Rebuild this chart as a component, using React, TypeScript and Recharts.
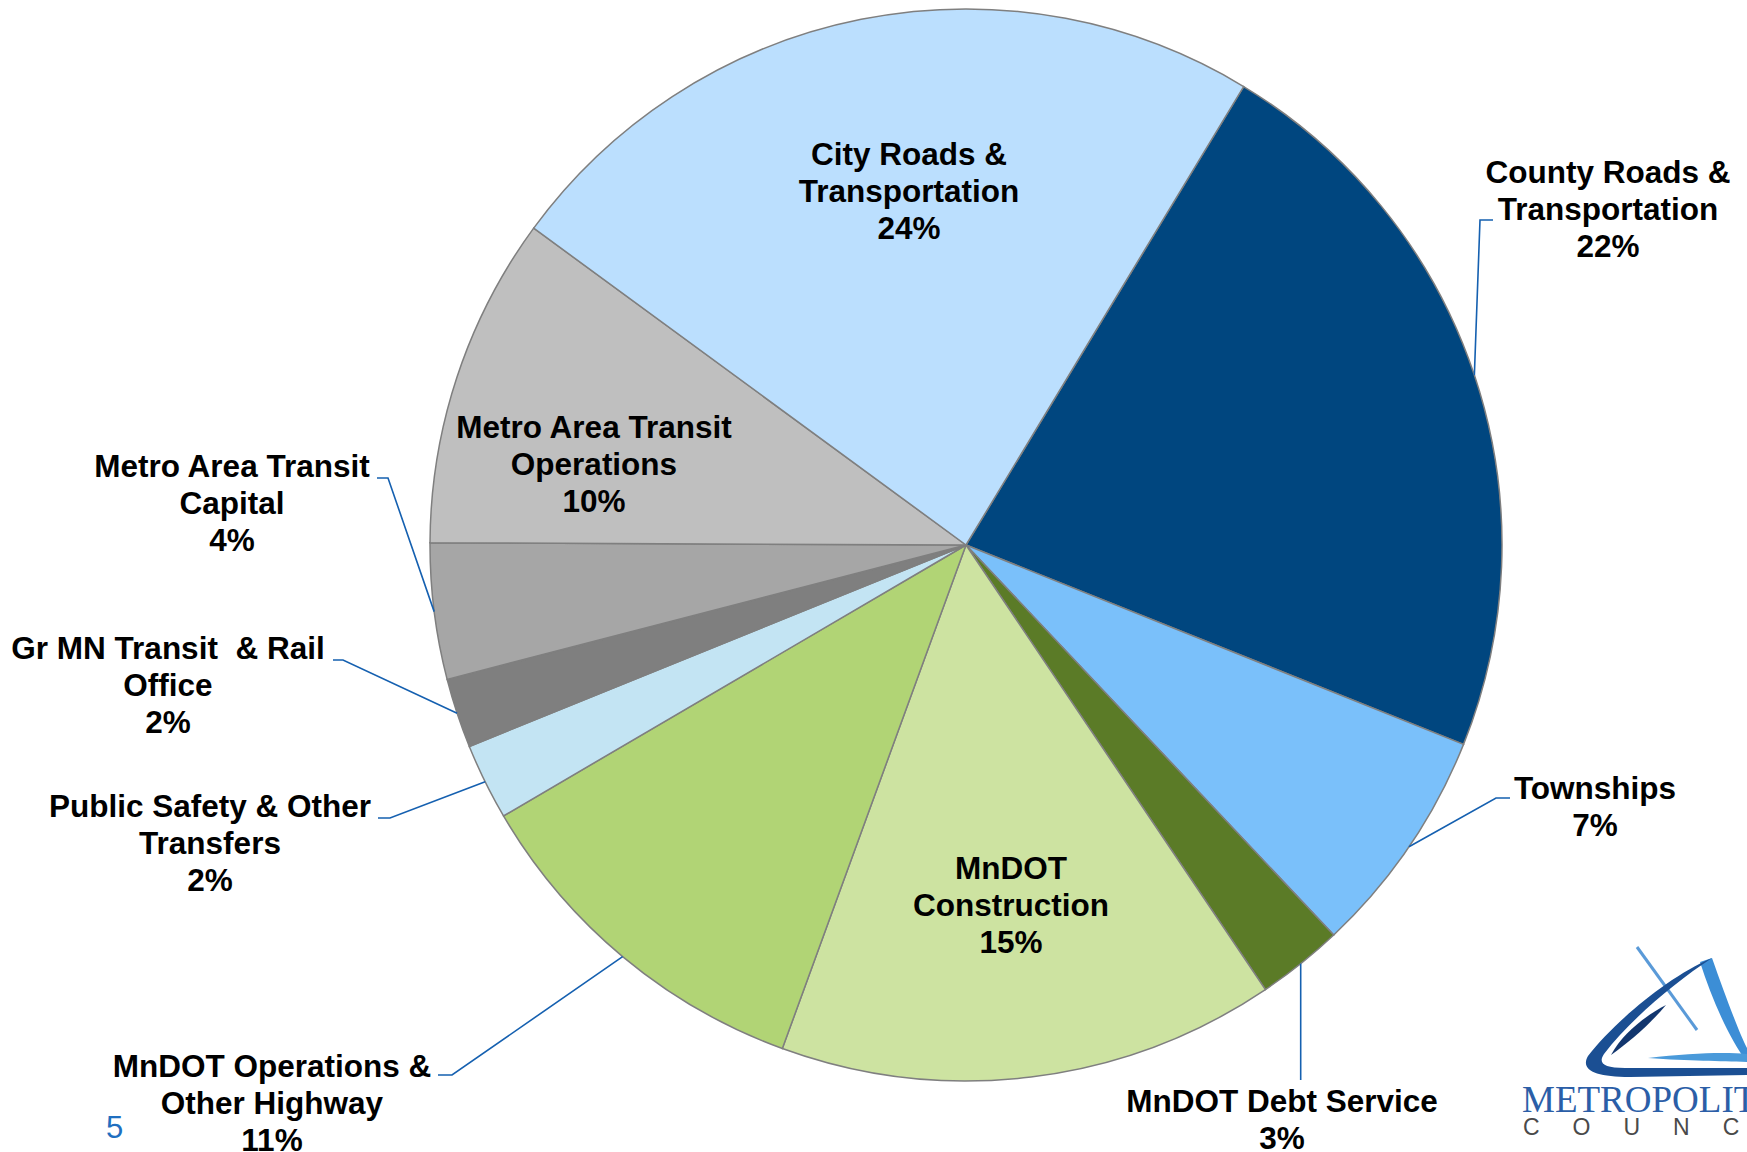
import React from "react";
import { Cell, Pie, PieChart } from "recharts";

// slices, clockwise from the top right
const categories = [
  "County Roads &\nTransportation",
  "Townships",
  "MnDOT Debt Service",
  "MnDOT\nConstruction",
  "MnDOT Operations &\nOther Highway",
  "Public Safety & Other\nTransfers",
  "Gr MN Transit  & Rail\nOffice",
  "Metro Area Transit\nCapital",
  "Metro Area Transit\nOperations",
  "City Roads &\nTransportation",
];
const shares = [22.4, 6.9, 2.6, 15.0, 11.0, 2.3, 2.1, 4.1, 10.0, 23.6];
const colors = [
  "#00467F",
  "#7AC0FA",
  "#5B7B27",
  "#CDE3A1",
  "#B1D475",
  "#C3E4F3",
  "#7F7F7F",
  "#A6A6A6",
  "#BFBFBF",
  "#BBDFFE",
];

const data = categories.map((name, i) => ({ name, value: shares[i] }));

// where each label sits (center x, first baseline) and its leader elbow
type Placement = {
  x: number;
  y: number;
  elbow?: { x?: number; y: number };
  end?: { x: number; y: number };
};
const placements: Placement[] = [
  { x: 1608, y: 183, elbow: { x: 1480, y: 220 }, end: { x: 1493, y: 220 } },
  { x: 1595, y: 799, elbow: { x: 1496, y: 798 }, end: { x: 1510, y: 798 } },
  { x: 1282, y: 1112, elbow: { y: 1080 } },
  { x: 1011, y: 879 },
  { x: 272, y: 1077, elbow: { x: 452, y: 1075 }, end: { x: 438, y: 1075 } },
  { x: 210, y: 817, elbow: { x: 390, y: 818 }, end: { x: 378, y: 818 } },
  { x: 168, y: 659, elbow: { x: 343, y: 660 }, end: { x: 333, y: 660 } },
  { x: 232, y: 477, elbow: { x: 388, y: 478 }, end: { x: 377, y: 478 } },
  { x: 594, y: 438 },
  { x: 909, y: 165 },
];

const RADIAN = Math.PI / 180;
const FONT = "'Liberation Sans', Arial, sans-serif";
const LEADER = "#1560B0";

function renderLabel(props: any) {
  const { cx, cy, midAngle, outerRadius, index, percent } = props;
  const place = placements[index];
  const lines = categories[index].split("\n");
  lines.push(`${Math.round(percent * 100)}%`);

  let leader = null;
  if (place.elbow) {
    const ax = cx + outerRadius * Math.cos(-midAngle * RADIAN);
    const ay = cy + outerRadius * Math.sin(-midAngle * RADIAN);
    const ex = place.elbow.x ?? ax;
    const pts = [`${ax},${ay}`, `${ex},${place.elbow.y}`];
    if (place.end) pts.push(`${place.end.x},${place.end.y}`);
    leader = (
      <polyline
        points={pts.join(" ")}
        fill="none"
        stroke={LEADER}
        strokeWidth={1.6}
      />
    );
  }

  return (
    <g key={`label-${index}`}>
      {leader}
      <text
        x={place.x}
        y={place.y}
        textAnchor="middle"
        fontFamily={FONT}
        fontWeight="bold"
        fontSize={31.5}
        fill="#000"
        style={{ whiteSpace: "pre" }}
      >
        {lines.map((line, i) => (
          <tspan key={i} x={place.x} dy={i === 0 ? 0 : 37}>
            {line}
          </tspan>
        ))}
      </text>
    </g>
  );
}

function Logo() {
  return (
    <g>
      <line x1={1637} y1={947} x2={1697} y2={1030} stroke="#5A9AD8" strokeWidth={3} />
      <path
        d="M 1700 962 L 1712 958 C 1725 995, 1740 1035, 1747 1048 L 1747 1062 C 1730 1040, 1712 1000, 1700 962 Z"
        fill="#3C8ED6"
      />
      <path
        d="M 1648 1058 C 1690 1053, 1725 1052, 1747 1054 L 1747 1062 C 1720 1061, 1690 1061, 1648 1058 Z"
        fill="#4A9ADA"
      />
      <path
        d="M 1712 958 C 1665 978, 1612 1025, 1588 1056 C 1580 1070, 1595 1077, 1630 1077 L 1747 1075 L 1747 1068 L 1625 1068 C 1603 1068, 1598 1063, 1604 1054 C 1630 1020, 1675 982, 1712 958 Z"
        fill="#1B4F93"
      />
      <path
        d="M 1666 1005 C 1645 1016, 1622 1034, 1611 1055 C 1632 1040, 1652 1022, 1666 1005 Z"
        fill="#12366E"
      />
      <text
        x={1522}
        y={1112}
        fontFamily="'Liberation Serif', 'Times New Roman', serif"
        fontSize={37}
        fill="#2B5EA7"
      >
        METROPOLIT
      </text>
      <text
        x={1523}
        y={1135}
        fontFamily={FONT}
        fontSize={23}
        letterSpacing={33}
        fill="#4A4A4A"
      >
        COUNC
      </text>
    </g>
  );
}

export default function App() {
  return (
    <div
      style={{
        position: "absolute",
        left: 0,
        top: 0,
        width: 1747,
        height: 1152,
        background: "#fff",
        overflow: "hidden",
      }}
    >
      <PieChart width={1747} height={1152} margin={{ top: 0, right: 0, bottom: 0, left: 0 }}>
        <Pie
          data={data}
          dataKey="value"
          nameKey="name"
          cx={966}
          cy={545}
          outerRadius={536}
          startAngle={58.8}
          endAngle={-301.2}
          stroke="#7F7F7F"
          strokeWidth={1.5}
          label={renderLabel}
          labelLine={false}
          isAnimationActive={false}
        >
          {data.map((d, i) => (
            <Cell key={d.name} fill={colors[i]} />
          ))}
        </Pie>
      </PieChart>
      <svg
        width={1747}
        height={1152}
        style={{ position: "absolute", left: 0, top: 0, pointerEvents: "none" }}
      >
        <text x={106} y={1138} fontFamily={FONT} fontSize={31} fill="#1F6FC0">
          5
        </text>
        <Logo />
      </svg>
    </div>
  );
}
